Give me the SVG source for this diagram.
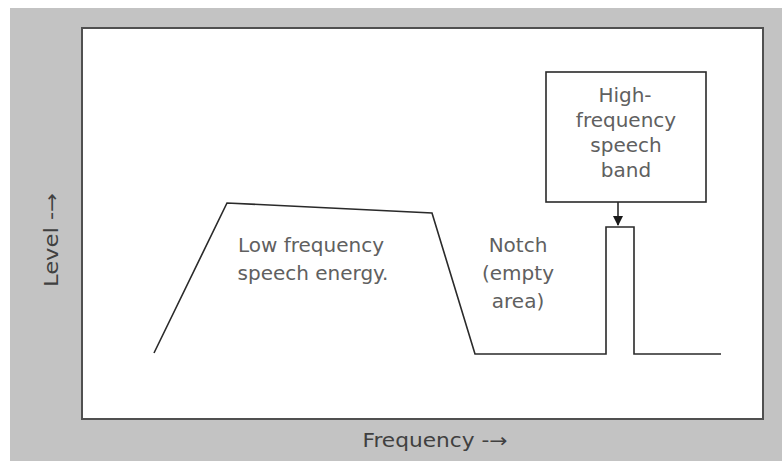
<svg xmlns="http://www.w3.org/2000/svg" width="782" height="461" viewBox="0 0 782 461">
<defs>
<style>
.lbl{font-family:"DejaVu Sans","Liberation Sans",sans-serif;font-size:20px;fill:#606060;text-anchor:middle}
.axis{font-family:"DejaVu Sans","Liberation Sans",sans-serif;font-size:19px;fill:#404040;text-anchor:middle}
.ln{fill:none;stroke:#2a2a2a;stroke-width:1.6;stroke-linejoin:miter}
</style>
<marker id="ah" markerWidth="10" markerHeight="10" refX="9" refY="5" orient="auto" markerUnits="userSpaceOnUse" viewBox="0 0 10 10">
<path d="M0,0 L10,5 L0,10 Z" fill="#1a1a1a"/>
</marker>
</defs>
<rect x="0" y="0" width="782" height="461" fill="#ffffff"/>
<rect x="10" y="8" width="772" height="453" fill="#c3c3c3"/>
<g id="plot">
<rect x="82" y="28" width="681" height="391" fill="#ffffff" stroke="#505050" stroke-width="2"/>
</g>
<g id="axis-labels">
<text class="axis" x="435" y="447" textLength="145" lengthAdjust="spacingAndGlyphs">Frequency -→</text>
<text class="axis" transform="translate(58,240) rotate(-90)" x="0" y="0" font-size="17" textLength="94" lengthAdjust="spacingAndGlyphs">Level -→</text>
</g>
<g id="spectrum">
<polyline class="ln" points="154,353 227,203 432,213 475,354 606,354 606,227 634,227 634,354 721,354"/>
</g>
<g id="low-band">
<text class="lbl" x="311" y="252">Low frequency</text>
<text class="lbl" x="313" y="280">speech energy.</text>
</g>
<g id="notch">
<text class="lbl" x="518" y="252">Notch</text>
<text class="lbl" x="518" y="280">(empty</text>
<text class="lbl" x="518" y="308">area)</text>
</g>
<g id="high-band">
<rect x="546" y="72" width="160" height="130" fill="#ffffff" stroke="#2a2a2a" stroke-width="1.6"/>
<text class="lbl" x="625" y="102">High-</text>
<text class="lbl" x="626" y="127">frequency</text>
<text class="lbl" x="626" y="152">speech</text>
<text class="lbl" x="626" y="177">band</text>
</g>
<g id="connectors">
<line x1="618" y1="202" x2="618" y2="225" stroke="#2a2a2a" stroke-width="1.6" marker-end="url(#ah)"/>
</g>
</svg>
